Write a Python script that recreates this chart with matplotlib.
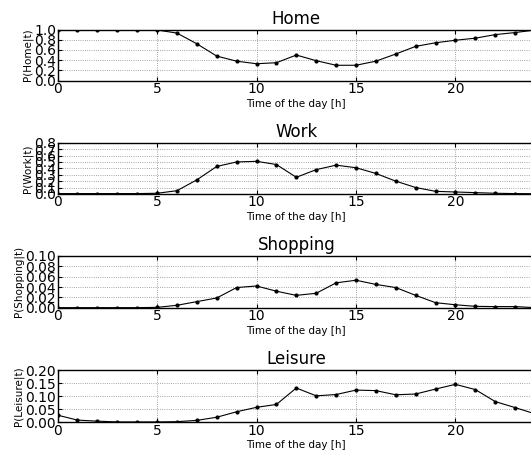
import matplotlib
matplotlib.use("Agg")
import matplotlib.pyplot as plt
import numpy as np

hours = list(range(25))

home = [0.99, 0.99, 0.99, 0.99, 0.99, 0.99, 0.93, 0.72, 0.48, 0.38, 0.33, 0.35,
        0.50, 0.39, 0.30, 0.30, 0.38, 0.52, 0.67, 0.74, 0.79, 0.83, 0.90, 0.94, 0.99]
work = [0.005, 0.005, 0.005, 0.005, 0.005, 0.01, 0.05, 0.22, 0.43, 0.50, 0.51, 0.46,
        0.26, 0.38, 0.45, 0.41, 0.32, 0.20, 0.10, 0.04, 0.03, 0.02, 0.01, 0.005, 0.003]
shopping = [0.0005, 0.0005, 0.0005, 0.0005, 0.0005, 0.001, 0.005, 0.012, 0.019, 0.039,
            0.042, 0.032, 0.024, 0.028, 0.048, 0.053, 0.045, 0.039, 0.024, 0.010,
            0.006, 0.003, 0.0025, 0.0025, 0.0005]
leisure = [0.027, 0.008, 0.004, 0.001, 0.001, 0.001, 0.002, 0.007, 0.019, 0.040,
           0.057, 0.068, 0.131, 0.101, 0.106, 0.123, 0.121, 0.105, 0.108, 0.127,
           0.145, 0.125, 0.079, 0.056, 0.032]

titles = ["Home", "Work", "Shopping", "Leisure"]
ylabels = ["P(Home|t)", "P(Work|t)", "P(Shopping|t)", "P(Leisure|t)"]
series = [home, work, shopping, leisure]
yticks = [np.arange(0, 1.01, 0.2), np.arange(0, 0.81, 0.1),
          np.arange(0, 0.101, 0.02), np.arange(0, 0.201, 0.05)]
yfmt = ["%.1f", "%.1f", "%.2f", "%.2f"]
xticks = [0, 5, 10, 15, 20]

W, H = 531, 450
fig = plt.figure(figsize=(W / 100, H / 100), dpi=100)

tops = [29.5, 142.8, 255.7, 370.0]
bots = [80.6, 193.9, 307.9, 422.2]
left_px, right_px = 57.6, 535.0

for i in range(4):
    ax = fig.add_axes([left_px / W, 1 - bots[i] / H, (right_px - left_px) / W,
                       (bots[i] - tops[i]) / H])
    ax.plot(hours, series[i], color="black", linewidth=0.8, marker=".",
            markersize=4, clip_on=True)
    ax.set_xlim(0, 24)
    ax.set_ylim(yticks[i][0], yticks[i][-1])
    ax.set_yticks(yticks[i])
    ax.set_yticklabels([yfmt[i] % v for v in yticks[i]])
    ax.set_xticks(xticks)
    ax.grid(True, color="#555555", linestyle=":", linewidth=0.6, alpha=0.7)
    ax.tick_params(direction="in", top=True, right=True, labelsize=10,
                   length=3, width=0.8, pad=1)
    ax.set_title(titles[i], fontsize=12, pad=4)
    ax.set_xlabel("Time of the day [h]", fontsize=7.5, labelpad=2)
    ax.set_ylabel(ylabels[i], fontsize=7.5, labelpad=1)
    for s in ax.spines.values():
        s.set_linewidth(1.0)

fig.savefig("out.png", dpi=100)
